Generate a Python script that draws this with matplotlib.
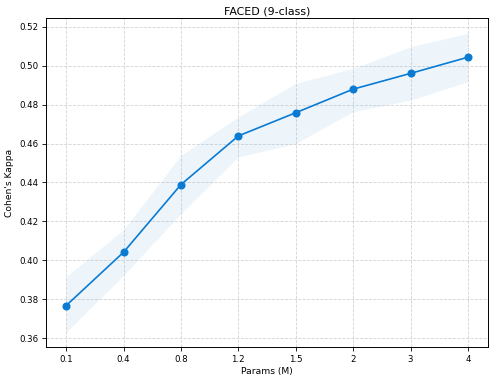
import matplotlib
matplotlib.use("Agg")
import matplotlib.pyplot as plt
import numpy as np

params = ["0.1", "0.4", "0.8", "1.2", "1.5", "2", "3", "4"]
kappa = [0.3768, 0.4042, 0.4389, 0.4639, 0.4758, 0.4879, 0.4960, 0.5043]
kappa_lo = [0.3631, 0.3923, 0.4240, 0.4531, 0.4600, 0.4763, 0.4823, 0.4917]
kappa_hi = [0.3917, 0.4158, 0.4540, 0.4737, 0.4909, 0.4986, 0.5097, 0.5166]

LINE = "#0a7bd3"

fig = plt.figure(figsize=(4.91, 3.81), dpi=100)
ax = fig.add_axes([0.0937, 0.0885, 0.9003, 0.8635])

x = np.arange(len(params))
ax.fill_between(x, kappa_lo, kappa_hi, color="#6db3e3", alpha=0.12, linewidth=0)
ax.plot(x, kappa, "-o", color=LINE, linewidth=1.2, markersize=4.8)

ax.set_xticks(x)
ax.set_xticklabels(params)
ax.set_yticks(np.arange(0.36, 0.521, 0.02))
ax.tick_params(labelsize=6.2, length=3, width=0.6, pad=2.5)
for s in ax.spines.values():
    s.set_linewidth(0.7)
ax.grid(True, linestyle="--", color="#cccccc", linewidth=0.6, alpha=0.85)
ax.set_axisbelow(True)

ax.set_title("FACED (9-class)", fontsize=7.9, pad=3)
ax.set_xlabel("Params (M)", fontsize=6.6, labelpad=2)
ax.set_ylabel("Cohen's Kappa", fontsize=6.6, labelpad=4)

fig.savefig("out.png")
